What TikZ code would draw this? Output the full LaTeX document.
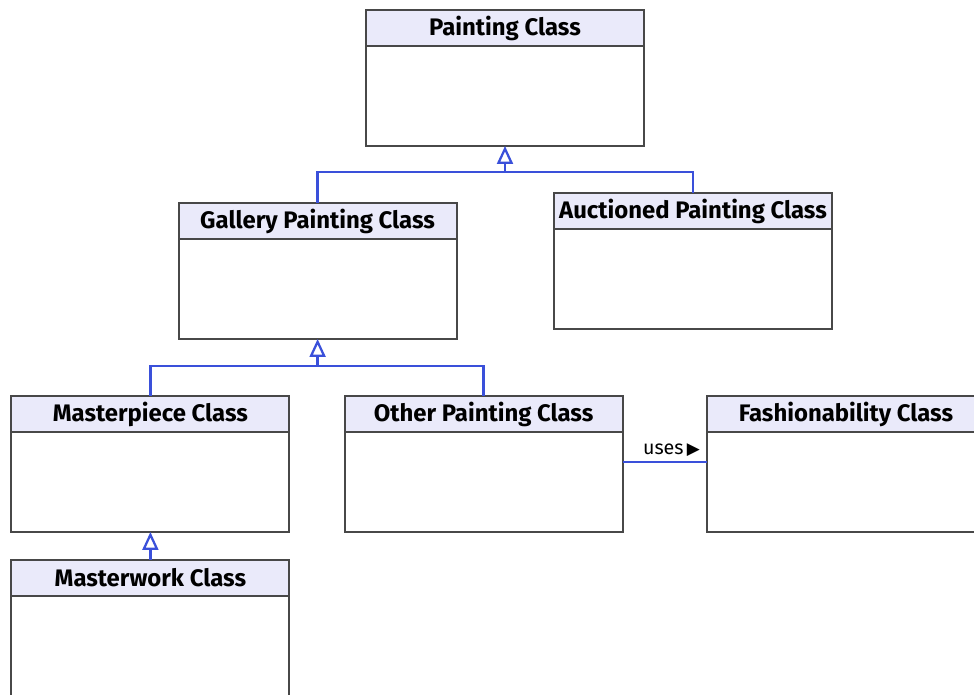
\documentclass[tikz,border=0pt]{standalone}
\usepackage{fontspec}
\setmainfont{Fira Sans}
\newfontfamily\symfont{DejaVu Sans}
\usetikzlibrary{positioning,arrows.meta,calc}
\definecolor{headcolor}{RGB}{234,234,250}
\definecolor{boxline}{RGB}{72,72,72}
\definecolor{relcolor}{RGB}{58,80,218}
\tikzset{
    class head/.style={rectangle, draw=boxline, line width=1.4pt, fill=headcolor, minimum width=6.95cm, minimum height=0.9cm, inner sep=0pt, outer sep=0pt, anchor=north, font=\fontsize{17}{19}\selectfont\bfseries},
    class body/.style={rectangle, draw=boxline, line width=1.4pt, fill=white, minimum width=6.95cm, minimum height=2.5cm, inner sep=0pt, outer sep=0pt},
    inherit line/.style={draw=relcolor, line width=1.6pt},
    inherit arrow/.style={inherit line, -{Triangle[open, width=0.4cm, length=0.45cm, fill=white]}},
    uses line/.style={draw=relcolor, line width=1.6pt}
}

\begin{document}
\begin{tikzpicture}
    \clip (0,0) rectangle (24.35,17.375);
    \useasboundingbox (0,0) rectangle (24.35,17.375);

    % Painting class
    \node[class head] (paintinghead) at (12.625,17.125) {Painting Class};
    \node[class body, below=0cm of paintinghead] (painting) {};

    % Gallery painting class
    \node[class head] (galleryhead) at (7.94,12.3) {Gallery Painting Class};
    \node[class body, below=0cm of galleryhead] (gallery) {};

    % Auctioned painting class
    \node[class head] (auctionedhead) at (17.325,12.55) {Auctioned Painting Class};
    \node[class body, below=0cm of auctionedhead] (auctioned) {};

    % Masterpiece class
    \node[class head] (masterpiecehead) at (3.76,7.475) {Masterpiece Class};
    \node[class body, below=0cm of masterpiecehead] (masterpiece) {};

    % Other painting class
    \node[class head] (otherhead) at (12.09,7.475) {Other Painting Class};
    \node[class body, below=0cm of otherhead] (other) {};

    % Fashionability class
    \node[class head] (fashionhead) at (21.15,7.475) {Fashionability Class};
    \node[class body, below=0cm of fashionhead] (fashion) {};

    % Masterwork class
    \node[class head] (masterworkhead) at (3.76,3.375) {Masterwork Class};
    \node[class body, below=0cm of masterworkhead] (masterwork) {};

    % Generalisation
    \coordinate (j1) at ($(painting.south)+(0,-0.65)$);
    \draw[inherit line] (galleryhead.north) |- (j1) -| (auctionedhead.north);
    \draw[inherit arrow] (j1) -- (painting.south);

    \coordinate (j2) at ($(gallery.south)+(0,-0.675)$);
    \draw[inherit line] (masterpiecehead.north) |- (j2) -| (otherhead.north);
    \draw[inherit arrow] (j2) -- (gallery.south);

    \draw[inherit arrow] (masterworkhead.north) -- (masterpiece.south);

    % Association
    \coordinate (u1) at ($(other.north east)+(0,-0.75)$);
    \draw[uses line] (u1) -- (u1 -| fashion.west)
        node[above left, inner xsep=0.15cm, inner ysep=0.1cm, font=\fontsize{14}{16}\selectfont] {uses\,{\symfont\fontsize{12}{14}\selectfont▶}};
\end{tikzpicture}
\end{document}
